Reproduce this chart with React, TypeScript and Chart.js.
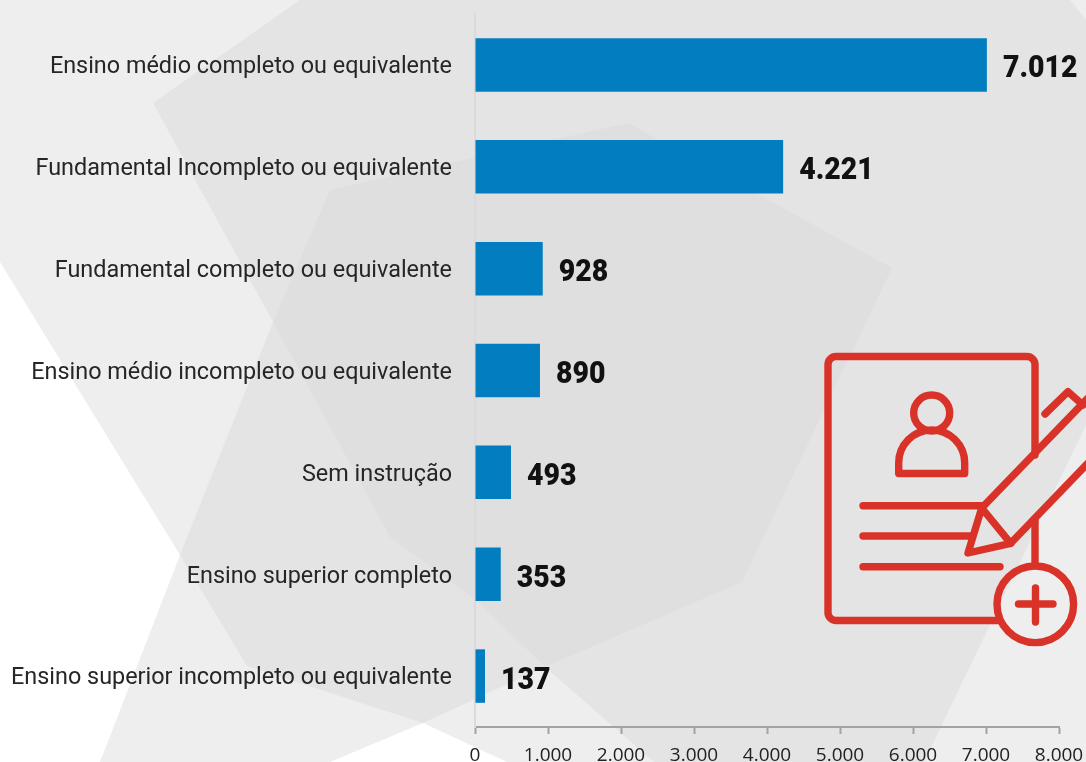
import React, { useEffect, useRef } from "react";
import { Chart, registerables } from "chart.js";

Chart.register(...registerables);

const categories = [
  "Ensino médio completo ou equivalente",
  "Fundamental Incompleto ou equivalente",
  "Fundamental completo ou equivalente",
  "Ensino médio incompleto ou equivalente",
  "Sem instrução",
  "Ensino superior completo",
  "Ensino superior incompleto ou equivalente",
];
const values = [7012, 4221, 928, 890, 493, 353, 137];
const axisMax = 8000;
const axisStep = 1000;

const fmt = (v: number) => String(v).replace(/\B(?=(\d{3})+(?!\d))/g, ".");

const valueLabels = {
  id: "valueLabels",
  afterDatasetsDraw(chart: any) {
    const { ctx, scales } = chart;
    ctx.save();
    ctx.font = "900 32px Roboto";
    ctx.fillStyle = "#111111";
    ctx.textBaseline = "middle";
    ctx.textAlign = "left";
    values.forEach((v, i) => {
      const x = scales.x.getPixelForValue(v) + 16;
      const y = scales.y.getPixelForValue(i) + 4.5;
      ctx.save();
      ctx.translate(x, y);
      ctx.scale(0.89, 1);
      ctx.fillText(fmt(v), 0, 0);
      ctx.restore();
    });
    ctx.restore();
  },
};

export default function App() {
  const ref = useRef<HTMLCanvasElement>(null);
  useEffect(() => {
    const chart = new Chart(ref.current!, {
      type: "bar",
      data: {
        labels: categories,
        datasets: [
          {
            data: values,
            backgroundColor: "#027dbf",
            barPercentage: 0.525,
            categoryPercentage: 1,
          },
        ],
      },
      plugins: [valueLabels],
      options: {
        indexAxis: "y",
        animation: false,
        responsive: false,
        layout: { padding: { top: 14, right: 27, left: 0, bottom: 0 } },
        plugins: { legend: { display: false }, tooltip: { enabled: false }, title: { display: false } },
        scales: {
          x: {
            min: 0,
            max: axisMax,
            afterFit: (s: any) => {
              s.height = 35;
              s.paddingLeft = 0;
              s.paddingRight = 0;
            },
            border: { color: "#a3a3a3", width: 2 },
            grid: { drawOnChartArea: false, drawTicks: true, tickLength: 7, tickColor: "#a3a3a3", tickWidth: 2 },
            ticks: {
              stepSize: axisStep,
              maxRotation: 0,
              autoSkip: false,
              padding: 10,
              color: "#222222",
              font: { family: "'Open Sans'", size: 19 },
              callback: (v: any) => fmt(Number(v)),
            },
          },
          y: {
            afterFit: (s: any) => {
              s.width = 475;
              s.paddingTop = 0;
              s.paddingBottom = 0;
            },
            border: { color: "#dadada", width: 2 },
            grid: { display: false, drawTicks: false },
            ticks: {
              padding: 23,
              labelOffset: 2.5,
              color: "#262626",
              font: { family: "Roboto", size: 23.4 },
            },
          },
        },
      },
    } as any);
    return () => chart.destroy();
  }, []);

  return (
    <div style={{ position: "fixed", left: 0, top: 0, width: 1086, height: 762, overflow: "hidden", background: "#ffffff" }}>
      <svg width={1086} height={762} style={{ position: "absolute", left: 0, top: 0 }}>
        <polygon
          fill="#eeeeee"
          points="0,0 1086,0 1086,762 507,762 423,723 330,762 100,762 180,555 0,262"
        />
        <polygon
          fill="#e4e4e4"
          points="153,103 300,0 1070,0 1086,20 1086,425 924,762 654,762 545,667 423,723 247,666 180,555 273,322"
        />
        <polygon
          fill="#dfdfdf"
          points="330,190 628,123 892,268 742,582 545,667 477,601 390,537 273,322"
        />
      </svg>
      <canvas ref={ref} width={1086} height={762} style={{ position: "absolute", left: 0, top: 0, display: "block" }} />
      <svg width={1086} height={762} style={{ position: "absolute", left: 0, top: 0 }} fill="none" stroke="#d93228" strokeWidth={7.4} strokeLinecap="round" strokeLinejoin="round">
        <path d="M1035 455 V364.5 a8 8 0 0 0 -8 -8 H836 a8 8 0 0 0 -8 8 V612.5 a8 8 0 0 0 8 8 H999" />
        <path d="M1035 520 V563" />
        <circle cx={1035.3} cy={604.3} r={38.3} />
        <path d="M1018.5 604 H1053 M1035.5 588 V622" />
        <circle cx={931.7} cy={413} r={18} />
        <path d="M898.7 473.5 V463 a33 33 0 0 1 66 0 V473.5 Z" />
        <path d="M863 505.7 H983 M863 536 H970 M863 566.7 H1000" />
        <path d="M981.7 508 L968 553 L1010.7 543.3 Z" />
        <path d="M981.7 508 L1090 396 M1010.7 543.3 L1090 461" />
        <path d="M1045 414 L1068 391.7 L1083 405" />
      </svg>
    </div>
  );
}
